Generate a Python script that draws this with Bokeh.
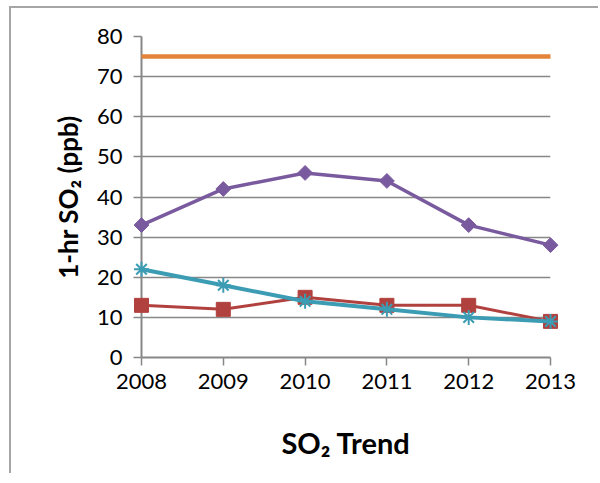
import math
from bokeh.plotting import figure
from bokeh.models import Range1d, FixedTicker
from bokeh.embed import file_html
from bokeh.resources import INLINE

# ---- data ----
years = [2008, 2009, 2010, 2011, 2012, 2013]
standard = [75, 75, 75, 75, 75, 75]
site_purple = [33, 42, 46, 44, 33, 28]
site_red = [13, 12, 15, 13, 13, 9]
site_cyan = [22, 18, 14, 12, 10, 9]
y_ticks = [0, 10, 20, 30, 40, 50, 60, 70, 80]
y_label = "1-hr SO\u2082 (ppb)"
x_label = "SO\u2082 Trend"

FONT = "Lato"
GRID = "#878787"

p = figure(width=589, height=467, output_backend="svg", toolbar_location=None,
           x_range=Range1d(2008, 2013), y_range=Range1d(0, 80),
           min_border_left=130, min_border_right=50,
           min_border_top=28, min_border_bottom=118)

p.styles = {"border-left": "2px solid #A6A6A6", "border-top": "2px solid #A6A6A6",
            "margin-left": "9px", "margin-top": "6px"}

p.outline_line_color = None
p.background_fill_color = "white"
p.border_fill_color = "white"

# grid
p.xgrid.grid_line_color = None
p.ygrid.grid_line_color = GRID
p.ygrid.grid_line_width = 1.5
p.ygrid.ticker = FixedTicker(ticks=y_ticks)

# axes
for ax in (p.xaxis[0], p.yaxis[0]):
    ax.axis_line_color = GRID
    ax.axis_line_width = 2
    ax.major_tick_line_color = GRID
    ax.major_tick_line_width = 1.5
    ax.major_tick_out = 8
    ax.major_tick_in = 0
    ax.minor_tick_line_color = None
    ax.major_label_text_font = FONT
    ax.major_label_text_font_size = "22px"
    ax.major_label_text_color = "black"
    ax.axis_label_text_font = FONT
    ax.axis_label_text_font_style = "bold"
    ax.axis_label_text_color = "black"

p.yaxis.axis_label_text_font_size = "26px"
p.xaxis.axis_label_text_font_size = "29px"
p.xaxis.ticker = FixedTicker(ticks=years)
p.yaxis.ticker = FixedTicker(ticks=y_ticks)
p.xaxis.major_label_standoff = 8
p.yaxis.major_label_standoff = 11
p.yaxis.axis_label = y_label
p.xaxis.axis_label = x_label
p.yaxis.axis_label_standoff = 10
p.xaxis.axis_label_standoff = 33

# series
l = p.line(years, standard, line_color="#E4843B", line_width=4.5)
l.level = "overlay"

r = p.line(years, site_purple, line_color="#7A5A9E", line_width=3.5)
r.level = "overlay"
r = p.scatter(years, site_purple, marker="square", angle=math.pi / 4, size=10.5,
              fill_color="#7A5A9E", line_color="#7A5A9E")
r.level = "overlay"

r = p.line(years, site_red, line_color="#B1413E", line_width=3)
r.level = "overlay"
r = p.scatter(years, site_red, marker="square", size=14, fill_color="#B1413E", line_color="#B1413E")
r.level = "overlay"

r = p.line(years, site_cyan, line_color="#3C9CB4", line_width=4)
r.level = "overlay"
r = p.scatter(years, site_cyan, marker="asterisk", size=15, line_color="#3C9CB4", line_width=2)
r.level = "overlay"

open("out.html", "w").write(file_html(p, INLINE))
